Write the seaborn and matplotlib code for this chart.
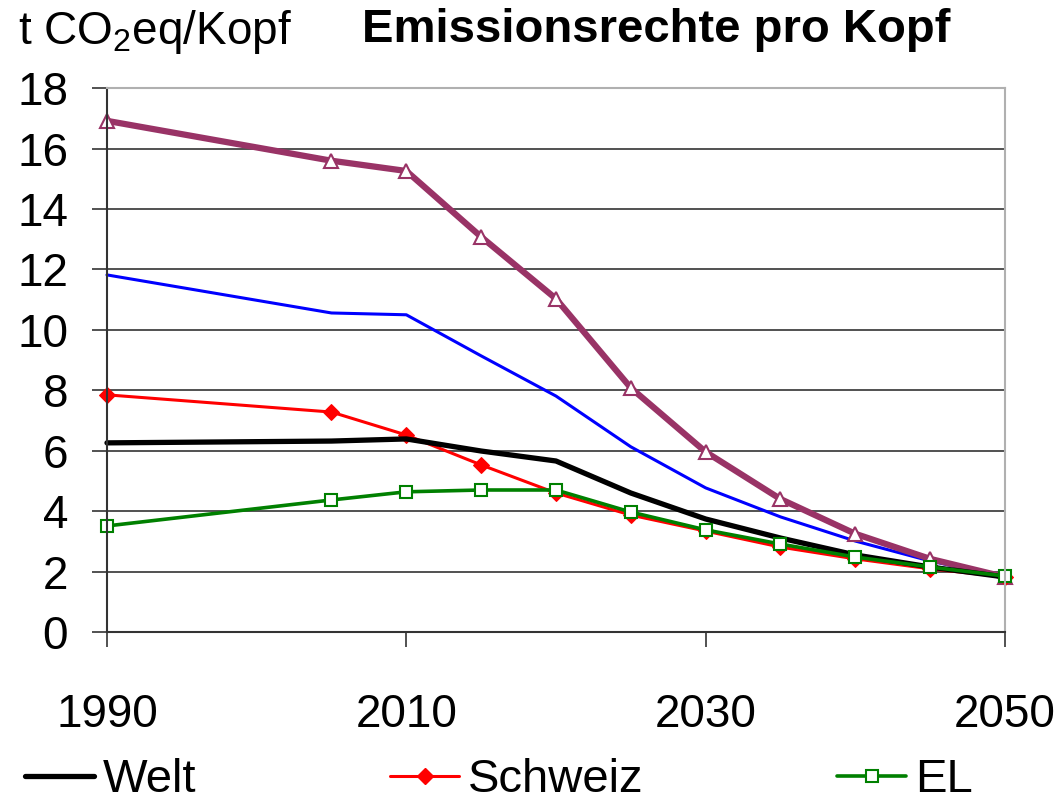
import numpy as np
import pandas as pd
import matplotlib.pyplot as plt
import seaborn as sns
from matplotlib.lines import Line2D

years = [1990, 2005, 2010, 2015, 2020, 2025, 2030, 2035, 2040, 2045, 2050]
series_a = [16.92, 15.6, 15.26, 13.08, 11.03, 8.08, 5.96, 4.40, 3.25, 2.42, 1.82]
series_b = [11.82, 10.56, 10.5, 9.14, 7.81, 6.13, 4.77, 3.81, 3.01, 2.35, 1.82]
welt = [6.26, 6.32, 6.39, 5.99, 5.66, 4.6, 3.74, 3.11, 2.55, 2.15, 1.82]
schweiz = [7.85, 7.28, 6.52, 5.53, 4.6, 3.87, 3.34, 2.81, 2.42, 2.09, 1.82]
el = [3.51, 4.37, 4.64, 4.7, 4.7, 3.97, 3.38, 2.91, 2.48, 2.15, 1.85]

x_ticks = [1990, 2010, 2030, 2050]
y_ticks = list(range(0, 20, 2))

sns.set_style("white")
plt.rcParams["font.family"] = ["Liberation Sans", "DejaVu Sans"]
plt.rcParams["mathtext.fontset"] = "custom"
plt.rcParams["mathtext.rm"] = "Liberation Sans"
plt.rcParams["text.color"] = "black"
plt.rcParams["xtick.labelcolor"] = "black"
plt.rcParams["ytick.labelcolor"] = "black"

df = pd.DataFrame({"Jahr": years, "A": series_a, "B": series_b,
                   "Welt": welt, "Schweiz": schweiz, "EL": el})

fig = plt.figure(figsize=(10.54, 8.02), dpi=100)
ax = fig.add_axes([0.1015, 0.212, 0.852, 0.678])

styles = {
    "B": dict(color="#0000FF", linewidth=2.2),
    "A": dict(color="#993366", linewidth=4.5, marker="^", markersize=10,
              markerfacecolor="white", markeredgecolor="#993366", markeredgewidth=1.5),
    "Schweiz": dict(color="#FF0000", linewidth=2.2, marker="D", markersize=8,
                    markerfacecolor="#FF0000", markeredgecolor="#FF0000"),
    "Welt": dict(color="black", linewidth=3.8),
    "EL": dict(color="#008000", linewidth=2.6, marker="s", markersize=8,
               markerfacecolor="white", markeredgecolor="#008000", markeredgewidth=1.5),
}
for name, st in styles.items():
    sns.lineplot(data=df, x="Jahr", y=name, ax=ax, clip_on=False, **st)

ax.set_xlim(1990, 2050)
ax.set_ylim(0, 18)
ax.set_xticks(x_ticks)
ax.set_yticks(y_ticks)
ax.set_xlabel("")
ax.set_ylabel("")
ax.yaxis.grid(True, color="#333333", linewidth=1.2)
ax.set_axisbelow(True)
for s in ["left", "bottom"]:
    ax.spines[s].set_color("#333333")
    ax.spines[s].set_linewidth(1.5)
for s in ["top", "right"]:
    ax.spines[s].set_color("#b0b0b0")
    ax.spines[s].set_linewidth(1.5)
ax.tick_params(axis="y", direction="out", length=11, width=1.2, color="#333333",
               labelsize=33, pad=17, left=True, labelcolor="black")
ax.tick_params(axis="x", direction="out", length=11, width=1.2, color="#333333",
               labelsize=33, pad=33, bottom=True, labelcolor="black")

fig.text(0.017, 0.96, "t CO$_2$eq/Kopf", fontsize=33, ha="left", va="center")
fig.text(0.343, 0.962, "Emissionsrechte pro Kopf", fontsize=34, fontweight="bold",
         ha="left", va="center")

handles = [
    Line2D([], [], **styles["Welt"]),
    Line2D([], [], **styles["Schweiz"]),
    Line2D([], [], **styles["EL"]),
]
fig.legend(handles, ["Welt", "Schweiz", "EL"], loc="center left",
           bbox_to_anchor=(0.024, 0.027), ncol=3, frameon=False, fontsize=34,
           handlelength=1.45, handletextpad=0.2, columnspacing=4.1,
           borderpad=0.0, borderaxespad=0.0)

fig.savefig("out.png", dpi=100)
